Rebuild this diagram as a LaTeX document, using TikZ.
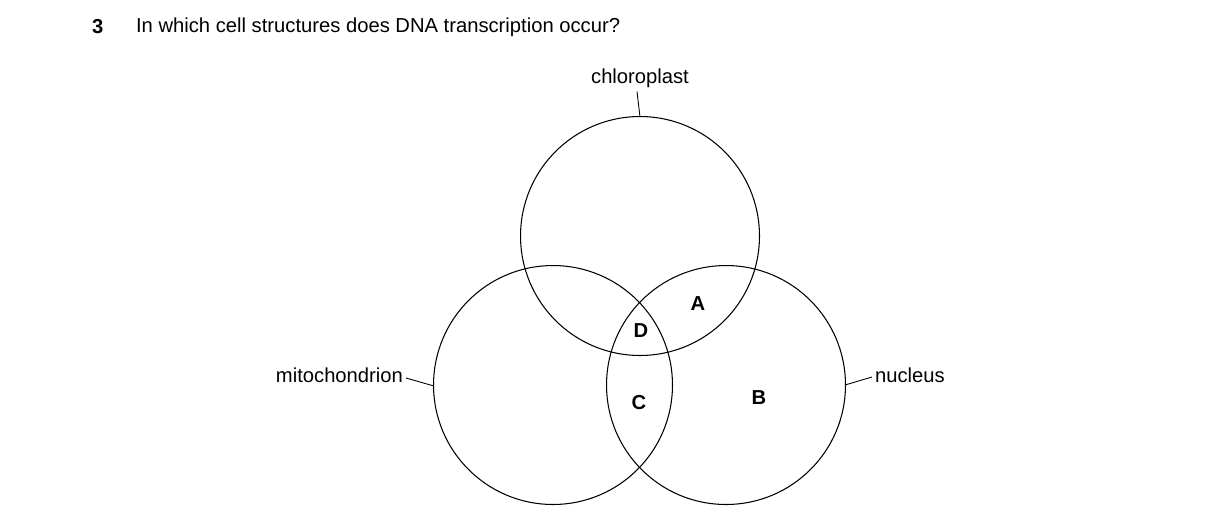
\documentclass[tikz,border=0pt]{standalone}
\usepackage{fontspec}
\setmainfont{Liberation Sans}
\begin{document}
\begin{tikzpicture}[x=0.02cm,y=-0.02cm,
  ring/.style={circle,draw,line width=0.6pt,minimum size=4.78cm,inner sep=0pt},
  lab/.style={font=\fontsize{11.5}{14}\selectfont,inner sep=1pt},
  let/.style={font=\fontsize{11.5}{14}\selectfont\bfseries,inner sep=1pt},
  lead/.style={line width=0.5pt}]
\useasboundingbox (0,0) rectangle (1216,529);
\node[let,anchor=west] (num) at (90,27) {3};
\node[lab,anchor=west] (q) at (134,27) {In which cell structures does DNA transcription occur?};
\node[ring] (top) at (640,236) {};
\node[ring] (left) at (553,385) {};
\node[ring] (right) at (726,385) {};
\node[lab] (chl) at (640,78) {chloroplast};
\node[lab,anchor=east] (mit) at (405,375) {mitochondrion};
\node[lab,anchor=west] (nuc) at (873,375) {nucleus};
\coordinate (t1) at (640,117);
\coordinate (l1) at (434,386);
\coordinate (r1) at (845,385);
\draw[lead] (chl.south) ++(-3,2) -- (t1);
\draw[lead] (mit.east) ++(1,3) -- (l1);
\draw[lead] (r1) -- ([shift={(-1,2)}]nuc.west);
\node[let] (A) at (698,304) {A};
\node[let] (D) at (641,331) {D};
\node[let] (C) at (639,403) {C};
\node[let] (B) at (759,398) {B};
\end{tikzpicture}
\end{document}
